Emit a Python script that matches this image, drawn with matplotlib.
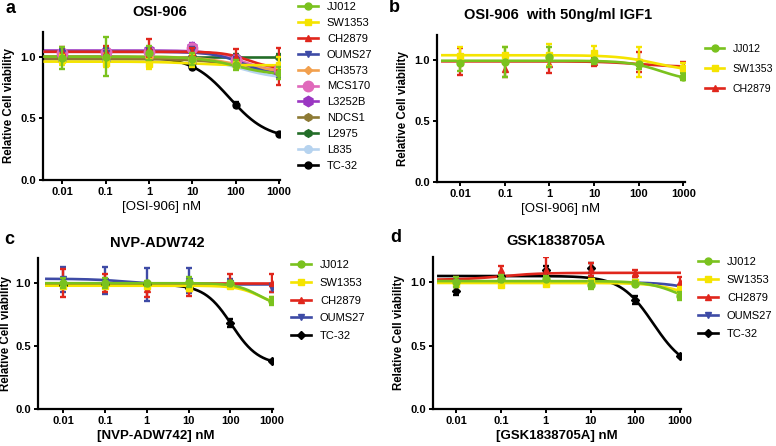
import numpy as np
import matplotlib
matplotlib.use("Agg")
import matplotlib.pyplot as plt

plt.rcParams["font.family"] = ["Liberation Sans", "DejaVu Sans"]

conc = [0.01, 0.1, 1, 10, 100, 1000]

# series styles (name -> colour, marker, marker size)
styles = {
    "JJ012": ("#7ac21e", "o", 5),
    "SW1353": ("#f5e400", "s", 5),
    "CH2879": ("#e0261c", "^", 5),
    "OUMS27": ("#3e4ba6", "v", 5),
    "CH3573": ("#f2a04e", "D", 4),
    "MCS170": ("#e069bb", "o", 7.5),
    "L3252B": ("#9a36c2", "h", 7.5),
    "NDCS1": ("#8d7a34", "h", 5.5),
    "L2975": ("#236d28", "h", 5.5),
    "L835": ("#b6d3ef", "o", 5.5),
    "TC-32": ("#000000", "o", 5),
}

# ---- panel a: OSI-906 ----
names_a = ["JJ012", "SW1353", "CH2879", "OUMS27", "CH3573", "MCS170",
           "L3252B", "NDCS1", "L2975", "L835", "TC-32"]
means_a = [
    [0.99, 1.00, 1.03, 0.98, 0.93, 0.87],
    [0.97, 0.95, 0.94, 0.97, 0.93, 0.93],
    [1.04, 1.04, 1.07, 1.04, 1.00, 0.92],
    [1.03, 1.03, 1.04, 1.05, 0.97, 0.87],
    [1.00, 1.00, 1.00, 0.99, 0.95, 0.90],
    [1.03, 1.04, 1.04, 1.07, 0.97, 0.90],
    [1.02, 1.04, 1.05, 1.08, 0.98, 0.88],
    [0.98, 0.98, 0.99, 0.96, 0.94, 0.90],
    [1.00, 1.00, 1.00, 1.00, 1.00, 1.00],
    [0.98, 0.98, 0.99, 0.97, 0.93, 0.85],
    [1.00, 1.00, 0.99, 0.92, 0.61, 0.375],
]
errs_a = [
    [0.09, 0.16, 0.06, 0.05, 0.04, 0.05],
    [0.04, 0.03, 0.04, 0.05, 0.03, 0.07],
    [0.04, 0.05, 0.07, 0.03, 0.06, 0.15],
    [0.03, 0.04, 0.03, 0.03, 0.03, 0.04],
    [0.03, 0.03, 0.03, 0.03, 0.03, 0.03],
    [0.03, 0.03, 0.03, 0.03, 0.03, 0.03],
    [0.03, 0.03, 0.03, 0.03, 0.03, 0.03],
    [0.03, 0.03, 0.03, 0.03, 0.03, 0.03],
    [0.02, 0.02, 0.02, 0.02, 0.02, 0.02],
    [0.03, 0.03, 0.03, 0.03, 0.03, 0.03],
    [0.01, 0.01, 0.01, 0.02, 0.02, 0.01],
]
# fitted curve: top, bottom, logIC50, hill
fits_a = [
    [1.00, 0.85, 2.0, 1.0],
    [0.96, 0.93, 1.0, 1.0],
    [1.04, 0.90, 2.3, 1.5],
    [1.04, 0.84, 2.2, 1.2],
    [1.00, 0.88, 2.0, 1.0],
    [1.04, 0.87, 2.2, 1.2],
    [1.05, 0.85, 2.2, 1.2],
    [0.98, 0.88, 2.0, 1.0],
    [1.00, 1.00, 2.0, 1.0],
    [0.99, 0.82, 2.1, 1.0],
    [1.00, 0.33, 1.86, 1.0],
]

# ---- panel b: OSI-906 with IGF1 ----
names_b = ["JJ012", "SW1353", "CH2879"]
means_b = [
    [0.97, 0.98, 1.02, 1.00, 0.96, 0.86],
    [1.03, 1.04, 1.04, 1.05, 0.98, 0.93],
    [0.98, 0.92, 0.96, 0.98, 0.98, 0.95],
]
errs_b = [
    [0.06, 0.12, 0.08, 0.04, 0.04, 0.03],
    [0.07, 0.06, 0.09, 0.06, 0.12, 0.04],
    [0.11, 0.06, 0.07, 0.03, 0.08, 0.03],
]
fits_b = [
    [0.99, 0.82, 2.5, 1.2],
    [1.035, 0.90, 2.4, 1.0],
    [0.985, 0.94, 2.0, 1.0],
]

# ---- panel c: NVP-ADW742 ----
names_c = ["JJ012", "SW1353", "CH2879", "OUMS27", "TC-32"]
means_c = [
    [1.00, 1.00, 1.00, 1.01, 1.00, 0.86],
    [0.98, 0.98, 0.98, 0.96, 0.98, 0.87],
    [1.00, 1.00, 0.95, 0.96, 1.02, 1.00],
    [1.03, 1.02, 0.99, 1.02, 1.00, 0.96],
    [0.985, 0.99, 0.99, 0.96, 0.685, 0.38],
]
errs_c = [
    [0.04, 0.04, 0.02, 0.04, 0.02, 0.03],
    [0.02, 0.02, 0.02, 0.02, 0.02, 0.02],
    [0.11, 0.07, 0.06, 0.06, 0.05, 0.07],
    [0.10, 0.11, 0.13, 0.10, 0.03, 0.03],
    [0.01, 0.01, 0.01, 0.01, 0.03, 0.01],
]
fits_c = [
    [1.00, 0.80, 2.7, 1.5],
    [0.98, 0.80, 2.75, 1.5],
    [1.00, 1.00, 2.0, 1.0],
    [1.035, 0.99, -0.5, 1.0],
    [0.99, 0.35, 2.03, 1.34],
]

# ---- panel d: GSK1838705A ----
names_d = ["JJ012", "SW1353", "CH2879", "OUMS27", "TC-32"]
means_d = [
    [1.00, 1.03, 1.03, 0.98, 0.99, 0.89],
    [0.99, 0.98, 0.99, 1.01, 1.00, 0.94],
    [1.02, 1.10, 1.10, 1.10, 1.07, 1.00],
    [1.00, 1.00, 1.00, 1.00, 1.00, 0.96],
    [0.93, 1.05, 1.10, 1.11, 0.86, 0.42],
]
errs_d = [
    [0.04, 0.03, 0.02, 0.03, 0.02, 0.03],
    [0.02, 0.02, 0.02, 0.02, 0.02, 0.02],
    [0.02, 0.03, 0.10, 0.05, 0.03, 0.04],
    [0.02, 0.02, 0.02, 0.02, 0.02, 0.02],
    [0.03, 0.02, 0.03, 0.04, 0.03, 0.01],
]
fits_d = [
    [1.01, 0.80, 3.0, 1.2],
    [0.995, 0.85, 3.1, 1.2],
    [1.02, 1.075, -1.0, 1.0],
    [1.00, 0.90, 3.3, 1.2],
    [1.05, 0.30, 2.4, 1.19],
]

W, H = 776.0, 446.0


def four_pl(x, top, bottom, logic50, hill):
    return bottom + (top - bottom) / (1 + 10 ** ((np.log10(x) - logic50) * hill))


def rect_px(left, right, bottom, top):
    return [left / W, 1 - bottom / H, (right - left) / W, (bottom - top) / H]


def draw_panel(rect, names, means, errs, fits, xlim, title, title_xy, xlabel,
               letter, letter_xy, leg_xy, leg_space, xbold, tc_marker="o",
               leg_size=8, ylab_pad=4):
    ax = fig.add_axes(rect)
    xs = np.logspace(np.log10(conc[0]) - 0.4, 3, 300)
    n = len(names)
    for i in reversed(range(n)):
        col, mk, ms = styles[names[i]]
        if names[i] == "TC-32" and tc_marker != "o":
            mk, ms = tc_marker, 4.5
        ax.plot(xs, four_pl(xs, *fits[i]), color=col, lw=1.9, zorder=2 + (n - i) * 0.1)
        ax.errorbar(conc, means[i], yerr=errs[i], fmt=mk, color=col, ms=ms,
                    ecolor=col, elinewidth=1.7, capsize=2.5, capthick=1.7,
                    zorder=3 + (n - i) * 0.1)
        ax.plot([], [], color=col, lw=1.9, marker=mk, ms=ms, label=names[i])
    ax.set_xscale("log")
    ax.set_xlim(*xlim)
    ax.set_ylim(0, 1.2)
    ax.set_xticks(conc)
    ax.set_xticklabels(["0.01", "0.1", "1", "10", "100", "1000"])
    ax.minorticks_off()
    ax.set_yticks([0.0, 0.5, 1.0])
    ax.set_yticklabels(["0.0", "0.5", "1.0"])
    for s in ["top", "right"]:
        ax.spines[s].set_visible(False)
    for s in ["left", "bottom"]:
        ax.spines[s].set_linewidth(1.6)
    ax.tick_params(width=1.4, length=3, labelsize=8, pad=2)
    for lab in ax.get_xticklabels() + ax.get_yticklabels():
        lab.set_fontweight("bold")
    ax.set_ylabel("Relative Cell viability", fontsize=8.3, fontweight="bold", labelpad=ylab_pad)
    ax.set_xlabel(xlabel, fontsize=9.5, fontweight="bold" if xbold else "normal", labelpad=3)
    fig.text(title_xy[0] / W, 1 - title_xy[1] / H, title, fontsize=10.5,
             fontweight="bold", ha="center", va="center")
    handles, labels = ax.get_legend_handles_labels()
    order = list(reversed(range(len(handles))))
    ax.legend([handles[k] for k in order], [labels[k] for k in order],
              loc="upper left", bbox_to_anchor=(leg_xy[0] / W, 1 - leg_xy[1] / H),
              bbox_transform=fig.transFigure,
              frameon=False, fontsize=leg_size, handlelength=1.8, handletextpad=0.8,
              labelspacing=leg_space, borderpad=0, borderaxespad=0)
    fig.text(letter_xy[0] / W, 1 - letter_xy[1] / H, letter,
             fontsize=13, fontweight="bold", va="top", ha="left")
    return ax


fig = plt.figure(figsize=(7.76, 4.46), dpi=100)

draw_panel(rect_px(43, 280, 180, 32), names_a, means_a, errs_a, fits_a,
           (10 ** -2.44, 10 ** 3.02), "OSI-906", (160, 12), "[OSI-906] nM",
           "a", (6, 0), (298, 2), 0.53, False)
draw_panel(rect_px(437, 685, 182, 35), names_b, means_b, errs_b, fits_b,
           (10 ** -2.52, 10 ** 3.04), "OSI-906  with 50ng/ml IGF1", (558, 15),
           "[OSI-906] nM", "b", (389, -1), (705, 44), 0.95, False, leg_size=7.6)
draw_panel(rect_px(38, 273, 409, 258), names_c, means_c, errs_c, fits_c,
           (10 ** -2.6, 10 ** 3.02), "NVP-ADW742", (157, 243), "[NVP-ADW742] nM",
           "c", (4, 231), (291, 260), 0.7, True, tc_marker="D", ylab_pad=2.5)
draw_panel(rect_px(433, 681, 409, 257), names_d, means_d, errs_d, fits_d,
           (10 ** -2.52, 10 ** 3.02), "GSK1838705A", (556, 241), "[GSK1838705A] nM",
           "d", (390, 229), (698, 257), 0.72, True, tc_marker="D")

fig.savefig("out.png", dpi=100)
